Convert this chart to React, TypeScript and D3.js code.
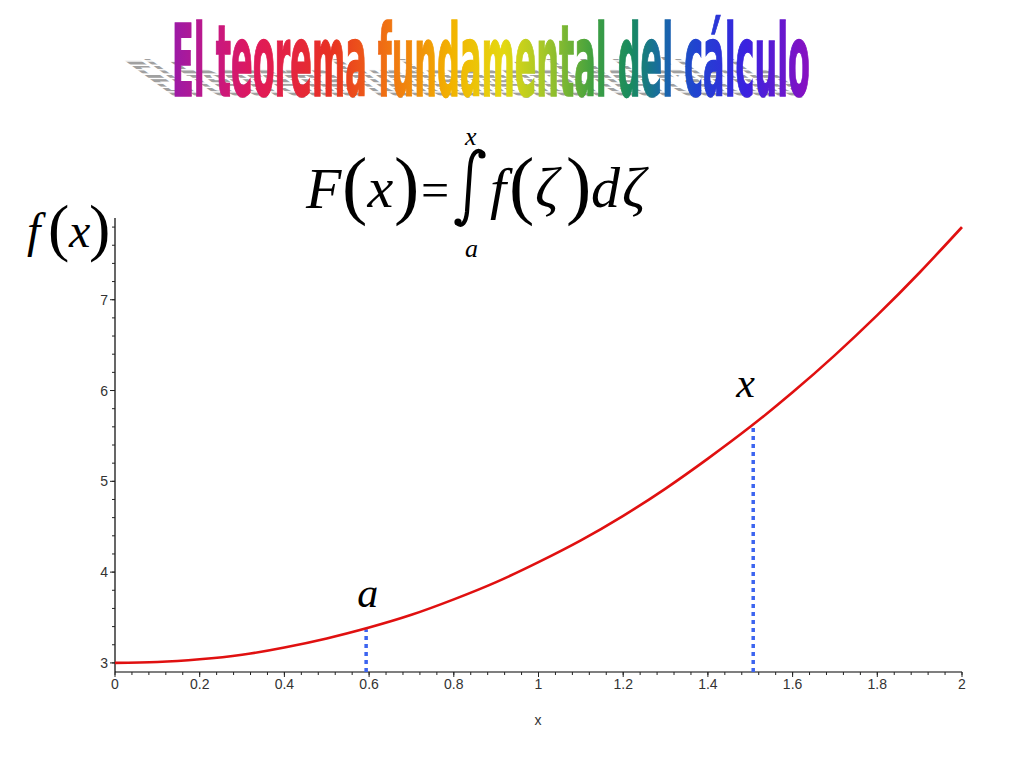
import React from "react";
import * as d3 from "d3";

// Curve samples
const xValues = [0, 0.1, 0.2, 0.3, 0.4, 0.5, 0.6, 0.7, 0.8, 0.9, 1.0, 1.1, 1.2, 1.3, 1.4, 1.5, 1.6, 1.7, 1.8, 1.9, 2.0];
const fValues = [3.0, 3.01, 3.04, 3.09, 3.17, 3.27, 3.39, 3.53, 3.7, 3.89, 4.11, 4.35, 4.62, 4.92, 5.25, 5.6, 5.98, 6.39, 6.83, 7.3, 7.8];

// Markers (dotted verticals)
const markerX = [0.593, 1.507];
const markerF = [3.37, 5.63];
const markerLabels = ["a", "x"];

const xTicks = [0, 0.2, 0.4, 0.6, 0.8, 1, 1.2, 1.4, 1.6, 1.8, 2];
const xTickLabels = ["0", "0.2", "0.4", "0.6", "0.8", "1", "1.2", "1.4", "1.6", "1.8", "2"];
const yTicks = [3, 4, 5, 6, 7];
const yTickLabels = ["3", "4", "5", "6", "7"];

const titleText = "El teorema fundamental del cálculo";

const gradientStops: [number, string][] = [
  [0, "#9a1aa8"],
  [0.07, "#c81880"],
  [0.13, "#e0185a"],
  [0.25, "#e83222"],
  [0.34, "#f07412"],
  [0.44, "#f2b400"],
  [0.52, "#e4d810"],
  [0.58, "#a8c828"],
  [0.66, "#40a040"],
  [0.72, "#188a60"],
  [0.77, "#1868a8"],
  [0.82, "#2044d0"],
  [0.9, "#3a22e0"],
  [1, "#8a10c0"],
];

export default function App() {
  const x = d3.scaleLinear().domain([0, 2]).range([115, 962]);
  const y = d3.scaleLinear().domain([2.9, 7.9]).range([672, 218]);

  const pts = xValues.map((v, i) => [v, fValues[i]] as [number, number]);
  const line = d3
    .line<[number, number]>()
    .x((d) => x(d[0]))
    .y((d) => y(d[1]))
    .curve(d3.curveNatural);

  const xMinor = d3.range(0, 2.0001, 0.04);
  const yMinor = d3.range(3, 7.8001, 0.2);

  const serif = "'Liberation Serif', 'Times New Roman', serif";
  const sans = "'Liberation Sans', Arial, sans-serif";
  const titleFont = "'DejaVu Sans Condensed', 'DejaVu Sans', sans-serif";
  const sy = 2.95;
  const base = 96;

  return (
    <svg
      width={1024}
      height={768}
      style={{ position: "absolute", left: 0, top: 0, background: "#fff" }}
    >
      <defs>
        <linearGradient id="rainbow" gradientUnits="userSpaceOnUse" x1={172} y1={0} x2={810} y2={0}>
          {gradientStops.map(([o, c], i) => (
            <stop key={i} offset={o} stopColor={c} />
          ))}
        </linearGradient>
        <pattern id="stripes" patternUnits="userSpaceOnUse" width={4} height={3}>
          <rect width={4} height={3} fill="#ffffff" />
          <rect width={4} height={2} fill="#a0a0a0" />
        </pattern>
      </defs>

      {/* Title shadow */}
      <text
        x={172}
        y={base}
        textLength={638}
        lengthAdjust="spacingAndGlyphs"
        fontFamily={titleFont}
        fontWeight="bold"
        fontSize={34}
        fill="url(#stripes)"
        transform={`translate(0,${base + 1}) skewX(54) scale(1,${sy * 0.5}) translate(0,${-base})`}
      >
        {titleText}
      </text>
      {/* Title */}
      <text
        x={172}
        y={base}
        textLength={638}
        lengthAdjust="spacingAndGlyphs"
        fontFamily={titleFont}
        fontWeight="bold"
        fontSize={34}
        fill="url(#rainbow)"
        stroke="url(#rainbow)"
        strokeWidth={0.5}
        transform={`translate(0,${base}) scale(1,${sy}) translate(0,${-base})`}
      >
        {titleText}
      </text>

      {/* Formula F(x) = ∫ f(ζ) dζ */}
      <g fill="#000" fontFamily={serif}>
        <text x={306} y={208} fontSize={58} fontStyle="italic">F</text>
        <text x={342} y={210} fontSize={76}>(</text>
        <text x={367.5} y={207} fontSize={58} fontStyle="italic">x</text>
        <text x={394} y={210} fontSize={76}>)</text>
        <text x={421} y={207} fontSize={50}>=</text>
        <path
          d="M 483,153 C 477,148 471,153 470,168 L 467,212 C 466,222 462,228 457,223"
          fill="none"
          stroke="#000"
          strokeWidth={4.2}
          strokeLinecap="round"
        />
        <circle cx={482} cy={155} r={3.6} />
        <circle cx={458} cy={222} r={3.6} />
        <text x={465} y={145} fontSize={26} fontStyle="italic">x</text>
        <text x={465} y={257} fontSize={26} fontStyle="italic">a</text>
        <text x={490} y={208} fontSize={58} fontStyle="italic">f</text>
        <text x={509} y={210} fontSize={76}>(</text>
        <text x={535} y={207} fontSize={58} fontStyle="italic">ζ</text>
        <text x={566} y={210} fontSize={76}>)</text>
        <text x={591} y={207} fontSize={58} fontStyle="italic">d</text>
        <text x={622} y={207} fontSize={58} fontStyle="italic">ζ</text>
      </g>

      {/* f(x) axis title */}
      <g fill="#000" fontFamily={serif}>
        <text x={27} y={247} fontSize={48} fontStyle="italic">f</text>
        <text x={48} y={249} fontSize={64}>(</text>
        <text x={69} y={247} fontSize={48} fontStyle="italic">x</text>
        <text x={89} y={249} fontSize={64}>)</text>
      </g>

      {/* Axes */}
      <line x1={x(0)} x2={x(2)} y1={672} y2={672} stroke="#000" strokeWidth={1.2} />
      <line x1={x(0)} x2={x(0)} y1={218} y2={672} stroke="#000" strokeWidth={1.2} />

      {xMinor.map((v, i) => (
        <line key={"xm" + i} x1={x(v)} x2={x(v)} y1={672} y2={675} stroke="#222" strokeWidth={1} />
      ))}
      {xTicks.map((v, i) => (
        <line key={"xt" + i} x1={x(v)} x2={x(v)} y1={672} y2={677} stroke="#222" strokeWidth={1} />
      ))}
      {yMinor.map((v, i) => (
        <line key={"ym" + i} x1={112} x2={115} y1={y(v)} y2={y(v)} stroke="#222" strokeWidth={1} />
      ))}
      {yTicks.map((v, i) => (
        <line key={"yt" + i} x1={110} x2={115} y1={y(v)} y2={y(v)} stroke="#222" strokeWidth={1} />
      ))}

      <g fontFamily={sans} fontSize={14} fill="#333">
        {xTicks.map((v, i) => (
          <text key={"xl" + i} x={x(v)} y={689} textAnchor="middle">
            {xTickLabels[i]}
          </text>
        ))}
        {yTicks.map((v, i) => (
          <text key={"yl" + i} x={108} y={y(v) + 5} textAnchor="end">
            {yTickLabels[i]}
          </text>
        ))}
        <text x={538} y={725} textAnchor="middle">x</text>
      </g>

      {/* Dotted verticals */}
      {markerX.map((v, i) => (
        <line
          key={"mk" + i}
          x1={x(v)}
          x2={x(v)}
          y1={672}
          y2={y(markerF[i])}
          stroke="#3c64f0"
          strokeWidth={3.5}
          strokeDasharray="4 4"
        />
      ))}

      {/* Curve */}
      <path d={line(pts) || ""} fill="none" stroke="#e01010" strokeWidth={2.6} />

      {/* Marker labels */}
      <g fontFamily={serif} fontStyle="italic" fontSize={42} fill="#000">
        <text x={x(markerX[0]) - 9} y={607}>{markerLabels[0]}</text>
        <text x={x(markerX[1]) - 17} y={397}>{markerLabels[1]}</text>
      </g>
    </svg>
  );
}
